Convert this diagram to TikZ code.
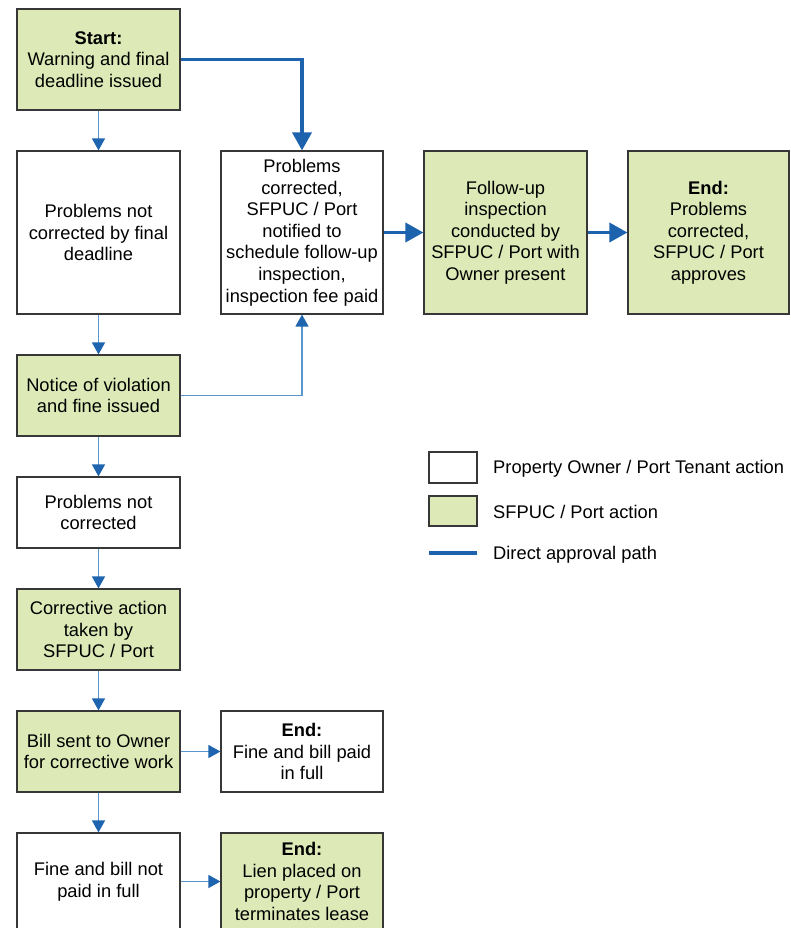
\documentclass[tikz,border=0pt]{standalone}
\usepackage{fontspec}
\setmainfont{Liberation Sans}
\usetikzlibrary{arrows.meta}
\definecolor{actgreen}{RGB}{221,234,183}
\definecolor{boxline}{RGB}{55,55,55}
\definecolor{thinblue}{RGB}{90,150,205}
\definecolor{headblue}{RGB}{30,100,175}
\definecolor{pathblue}{RGB}{28,98,172}
\tikzset{
  flowbox/.style={draw=boxline, line width=1.2pt, align=center, inner sep=0pt,
    font=\fontsize{18.3}{21.6}\selectfont},
  ownerbox/.style={flowbox, fill=white},
  portbox/.style={flowbox, fill=actgreen},
  thinarrow/.style={draw=thinblue, line width=1.4pt,
    -{Triangle[width=13pt,length=12pt,color=headblue]}},
  approval/.style={draw=pathblue, line width=3.6pt,
    -{Triangle[width=19pt,length=18pt,color=pathblue]}},
  legendtext/.style={anchor=west, inner sep=0pt, font=\fontsize{18.3}{21.6}\selectfont}
}
\begin{document}
\begin{tikzpicture}[x=1pt,y=-1pt]
\useasboundingbox (0,0) rectangle (790,928);
\clip (0,0) rectangle (790,928);
\fill[white] (0,0) rectangle (790,928);

% main column
\node[portbox, minimum width=163pt, minimum height=101pt] (start) at (98.5,59.5)
  {\textbf{Start:}\\Warning and final\\deadline issued};
\node[ownerbox, minimum width=163pt, minimum height=163pt] (late) at (98.5,232.5)
  {Problems not\\corrected by final\\deadline};
\node[portbox, minimum width=163pt, minimum height=81pt] (notice) at (98.5,395.5)
  {Notice of violation\\and fine issued};
\node[ownerbox, minimum width=163pt, minimum height=71pt] (still) at (98.5,512.5)
  {Problems not\\corrected};
\node[portbox, minimum width=163pt, minimum height=81pt] (corrective) at (98.5,629.5)
  {Corrective action\\taken by\\SFPUC / Port};
\node[portbox, minimum width=163pt, minimum height=81pt] (bill) at (98.5,751.5)
  {Bill sent to Owner\\for corrective work};
\node[ownerbox, minimum width=163pt, minimum height=97pt] (unpaid) at (98.5,881.5)
  {Fine and bill not\\paid in full};

% right-hand outcomes
\node[ownerbox, minimum width=162pt, minimum height=163pt] (fixed) at (302,232.5)
  {Problems\\corrected,\\SFPUC / Port\\notified to\\schedule follow-up\\inspection,\\inspection fee paid};
\node[portbox, minimum width=163pt, minimum height=163pt] (followup) at (505.5,232.5)
  {Follow-up\\inspection\\conducted by\\SFPUC / Port with\\Owner present};
\node[portbox, minimum width=161pt, minimum height=163pt] (approved) at (708.5,232.5)
  {\textbf{End:}\\Problems\\corrected,\\SFPUC / Port\\approves};
\node[ownerbox, minimum width=162pt, minimum height=81pt] (paid) at (302,751.5)
  {\textbf{End:}\\Fine and bill paid\\in full};
\node[portbox, minimum width=162pt, minimum height=97pt] (lien) at (302,881.5)
  {\textbf{End:}\\Lien placed on\\property / Port\\terminates lease};

% connectors
\draw[thinarrow] (start) -- (late);
\draw[thinarrow] (late) -- (notice);
\draw[thinarrow] (notice) -- (still);
\draw[thinarrow] (still) -- (corrective);
\draw[thinarrow] (corrective) -- (bill);
\draw[thinarrow] (bill) -- (unpaid);
\draw[thinarrow] (bill) -- (paid);
\draw[thinarrow] (unpaid) -- (lien);
\draw[thinarrow] (notice.east) -| (fixed.south);

\draw[approval] (start.east) -| (fixed.north);
\draw[approval] (fixed) -- (followup);
\draw[approval] (followup) -- (approved);

% legend
\node[ownerbox, minimum width=48pt, minimum height=31pt] (keyowner) at (453,467.5) {};
\node[portbox, minimum width=48pt, minimum height=30pt] (keyport) at (453,511) {};
\coordinate (keyA) at (429,553);
\coordinate (keyB) at (477,553);
\draw[pathblue, line width=3.6pt] (keyA) -- (keyB);
\node[legendtext] (keyownertext) at (493,469) {Property Owner / Port Tenant action};
\node[legendtext] (keyporttext) at (493,512) {SFPUC / Port action};
\node[legendtext] (keypathtext) at (493,555) {Direct approval path};
\end{tikzpicture}
\end{document}
